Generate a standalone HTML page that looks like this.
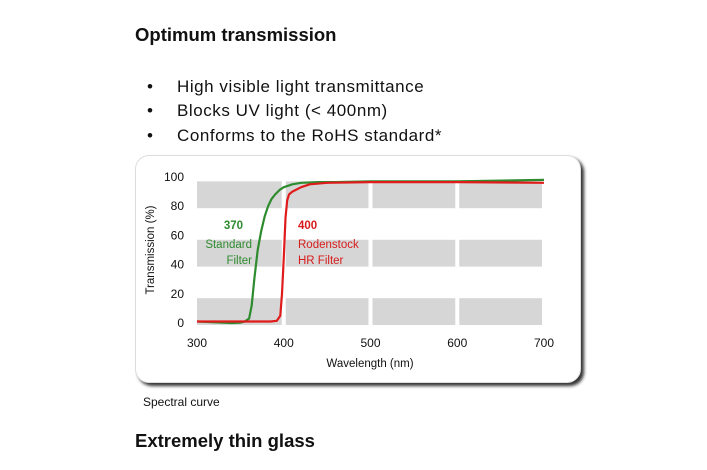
<!DOCTYPE html>
<html><head><meta charset="utf-8"><style>
body{margin:0;width:707px;height:470px;background:#fff;font-family:"Liberation Sans",sans-serif;position:relative;overflow:hidden;color:#111}
.t{position:absolute;white-space:nowrap}
.b{font-size:17px;letter-spacing:0.55px}
</style></head><body>
<div class="t" style="left:135px;top:24px;font-size:18.5px;font-weight:bold">Optimum transmission</div>
<div>
<div class="t b" style="left:147px;top:77px">•</div>
<div class="t b" style="left:177px;top:77px">High visible light transmittance</div>
<div class="t b" style="left:147px;top:101px">•</div>
<div class="t b" style="left:177px;top:101px">Blocks UV light (&lt; 400nm)</div>
<div class="t b" style="left:147px;top:126px">•</div>
<div class="t b" style="left:177px;top:126px">Conforms to the RoHS standard*</div>
</div>
<div style="position:absolute;left:135px;top:155px;width:444px;height:226px;border-radius:14px;background:#fff;border:1px solid #ddd;box-shadow:3px 3px 3px #333"></div>
<svg id="chart" width="707" height="470" style="position:absolute;left:0;top:0" font-family="Liberation Sans, sans-serif"></svg>
<div class="t" style="left:143px;top:395px;font-size:12px">Spectral curve</div>
<div class="t" style="left:135px;top:430px;font-size:18.5px;font-weight:bold">Extremely thin glass</div>
<script>
const xTicks=[300,400,500,600,700];
const yTicks=[0,20,40,60,80,100];
const bands=[[0,17],[40,57],[80,97]];
const greenX=[300,320,340,350,355,360,363,366,370,374,378,382,386,390,395,400,410,420,440,460,500,600,700];
const greenY=[1,0.5,0,0.3,1,3,12,30,50,63,73,80,85,88,91,93,95,96,96.5,96.5,97,97,98];
const redX=[300,350,385,392,396,398,400,402,404,406,410,420,430,450,500,600,700];
const redY=[1,1,1,1.5,5,20,45,72,84,88,90,93,95,96,96.5,96.5,96];
const svg=document.getElementById('chart');
const NS='http://www.w3.org/2000/svg';
const X=v=>197+(v-300)*(347/400);
const Y=v=>323-v*1.46;
function mk(t,a){const e=document.createElementNS(NS,t);for(const k in a)e.setAttribute(k,a[k]);svg.appendChild(e);return e;}
bands.forEach((b,i)=>{for(let j=0;j<4;j++){const x0=X(xTicks[j])+(j?2:0),x1=X(xTicks[j+1])-2;
const r=mk('rect',{x:x0,y:Y(b[1]),width:x1-x0,height:Y(b[0])-Y(b[1])+2,fill:'#d6d6d6'});

}});
xTicks.forEach(v=>{const t=mk('text',{x:X(v),y:347,'font-size':12,'text-anchor':'middle',fill:'#111'});t.textContent=v;

});
yTicks.forEach(v=>{const t=mk('text',{x:184,y:Y(v)+4,'font-size':12,'text-anchor':'end',fill:'#111'});t.textContent=v;

});
let t=mk('text',{x:370,y:367,'font-size':11.5,'text-anchor':'middle',fill:'#111'});t.textContent='Wavelength (nm)';


t=mk('text',{x:154,y:250,'font-size':11.5,'text-anchor':'middle',fill:'#111',transform:'rotate(-90 154 250)'});t.textContent='Transmission (%)';


function line(xs,ys,c,n){const d=xs.map((x,i)=>(i?'L':'M')+X(x).toFixed(1)+' '+Y(ys[i]).toFixed(1)).join(' ');
const p=mk('path',{d:d,fill:'none',stroke:c,'stroke-width':2.2,'stroke-linejoin':'round'});

}
line(greenX,greenY,'#2e8b2e','standard-filter-line');
line(redX,redY,'#e01b1b','rodenstock-hr-filter-line');
const labels=[[243,229,'370','#2e8b2e','bold','end'],[252,248,'Standard','#2e8b2e','normal','end'],[252,264,'Filter','#2e8b2e','normal','end'],
[298,229,'400','#d81b1b','bold','start'],[298,248,'Rodenstock','#d81b1b','normal','start'],[298,264,'HR Filter','#d81b1b','normal','start']];
labels.forEach(l=>{const e=mk('text',{x:l[0],y:l[1],'font-size':11.5,fill:l[3],'font-weight':l[4],'text-anchor':l[5]});e.textContent=l[2];

});
</script>
</body></html>
